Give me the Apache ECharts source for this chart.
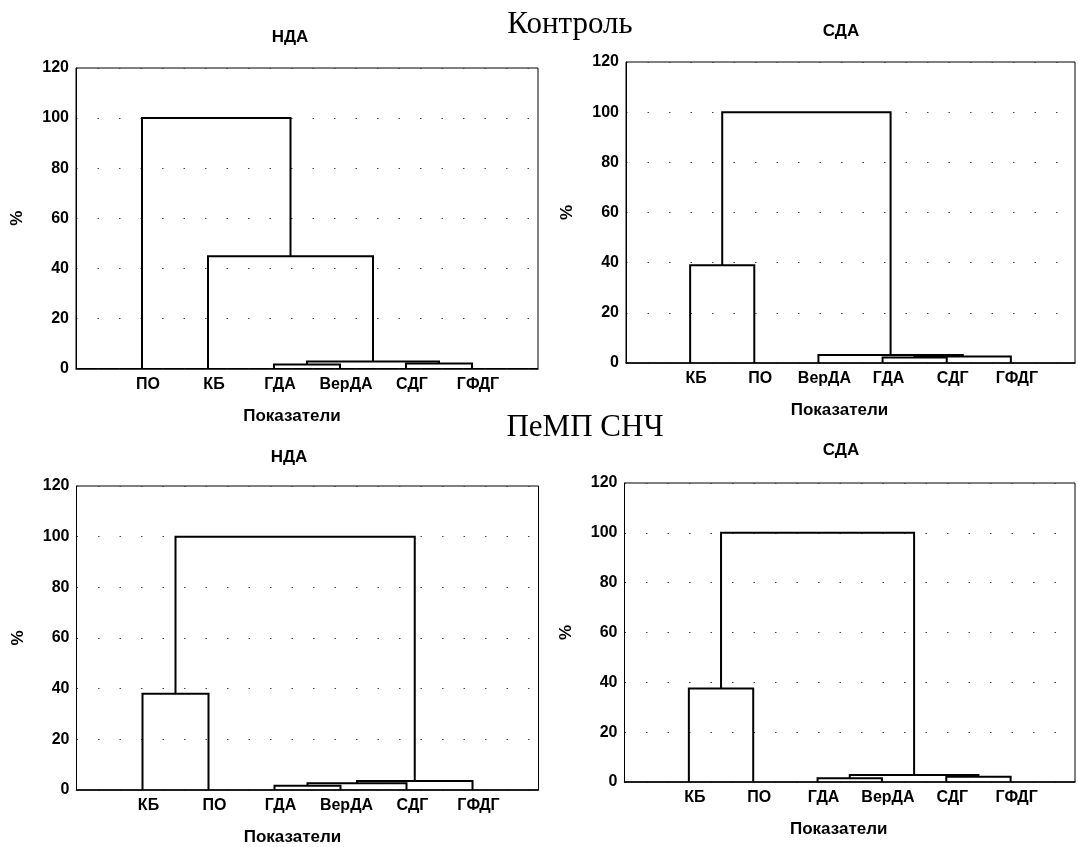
<!DOCTYPE html>
<html>
<head>
<meta charset="utf-8">
<script src="https://cdn.jsdelivr.net/npm/echarts@6/dist/echarts.min.js"></script>
<style>
  html, body { margin: 0; padding: 0; background: #ffffff; }
  #chart { width: 1078px; height: 847px; }
</style>
</head>
<body>
<div id="chart"></div>
<script>
// ---------- data ----------
const groupTitles = ['Контроль', 'ПеМП СНЧ'];
const panelTitles = ['НДА', 'СДА', 'НДА', 'СДА'];
const xAxisName = 'Показатели';
const yAxisName = '%';
const yMin = 0, yMax = 120, yStep = 20;

// leaves (left-to-right order) and merges [childA, childB, height %]
// node indices: 0..5 = leaves, 6.. = merges in order
const leavesCtrlNDA = ['ПО', 'КБ', 'ГДА', 'ВерДА', 'СДГ', 'ГФДГ'];
const mergesCtrlNDA = [[2, 3, 1.6], [4, 5, 2.0], [6, 7, 2.8], [1, 8, 44.8], [0, 9, 100]];

const leavesCtrlSDA = ['КБ', 'ПО', 'ВерДА', 'ГДА', 'СДГ', 'ГФДГ'];
const mergesCtrlSDA = [[0, 1, 39], [3, 4, 2.2], [7, 5, 2.6], [2, 8, 3.2], [6, 9, 100]];

const leavesEmfNDA = ['КБ', 'ПО', 'ГДА', 'ВерДА', 'СДГ', 'ГФДГ'];
const mergesEmfNDA = [[0, 1, 38], [2, 3, 1.7], [7, 4, 2.7], [8, 5, 3.6], [6, 9, 100]];

const leavesEmfSDA = ['КБ', 'ПО', 'ГДА', 'ВерДА', 'СДГ', 'ГФДГ'];
const mergesEmfSDA = [[0, 1, 37.5], [2, 3, 1.5], [4, 5, 2.1], [7, 8, 2.8], [6, 9, 100]];

// ---------- layout ----------
const panels = [
  { leaves: leavesCtrlNDA, merges: mergesCtrlNDA, nameShift: 30, grid: { left: 76, top: 68, width: 462, height: 300.5 } },
  { leaves: leavesCtrlSDA, merges: mergesCtrlSDA, nameShift: 22, grid: { left: 626, top: 62, width: 462, height: 301 } },
  { leaves: leavesEmfNDA,  merges: mergesEmfNDA,  nameShift: 30, grid: { left: 76.5, top: 486, width: 462, height: 305.5 } },
  { leaves: leavesEmfSDA,  merges: mergesEmfSDA,  nameShift: 22, grid: { left: 624.5, top: 483, width: 462, height: 299 } }
];

// build segments for each merge (positions in axis units: leaf i at i+1)
function buildTree(leaves, merges) {
  const pos = leaves.map((_, i) => i + 1);
  const hgt = leaves.map(() => 0);
  const items = [];
  merges.forEach(m => {
    const a = m[0], b = m[1], h = m[2];
    items.push([pos[a], hgt[a], pos[b], hgt[b], h]);
    pos.push((pos[a] + pos[b]) / 2);
    hgt.push(h);
  });
  return items;
}

const FONT = 'Liberation Sans, Arial, sans-serif';
const grids = [], xAxes = [], yAxes = [], series = [], graphics = [];

panels.forEach((p, k) => {
  grids.push(Object.assign({ show: true, borderColor: '#000', borderWidth: 1, backgroundColor: 'transparent' }, p.grid));
  xAxes.push({
    type: 'value', gridIndex: k, min: 0, max: p.leaves.length + 1, interval: 1,
    axisLine: { show: true, onZero: false, lineStyle: { color: '#000', width: 1.5 } },
    axisTick: { show: false },
    splitLine: { show: false },
    axisLabel: {
      color: '#000', fontFamily: FONT, fontWeight: 'bold', fontSize: 16, margin: 8,
      padding: [0, 0, 0, 12],
      formatter: v => (v >= 1 && v <= p.leaves.length) ? p.leaves[v - 1] : ''
    },
    name: xAxisName, nameLocation: 'middle', nameGap: 39,
    nameTextStyle: { color: '#000', fontFamily: FONT, fontWeight: 'bold', fontSize: 17,
      padding: [0, p.nameShift, 0, 0] }
  });
  yAxes.push({
    type: 'value', gridIndex: k, min: yMin, max: yMax, interval: yStep,
    axisLine: { show: true, lineStyle: { color: '#000', width: 1 } },
    axisTick: { show: false },
    splitLine: { show: true, lineStyle: { color: '#444', width: 1, type: [1.5, 20] } },
    axisLabel: { color: '#000', fontFamily: FONT, fontWeight: 'bold', fontSize: 16, margin: 7 },
    name: yAxisName, nameLocation: 'middle', nameGap: 50, nameRotate: 90,
    nameTextStyle: { color: '#000', fontFamily: FONT, fontWeight: 'bold', fontSize: 17 }
  });
  series.push({
    type: 'custom', xAxisIndex: k, yAxisIndex: k, clip: false,
    data: buildTree(p.leaves, p.merges),
    renderItem: function (params, api) {
      const p1 = api.coord([api.value(0), api.value(1)]);
      const p2 = api.coord([api.value(0), api.value(4)]);
      const p3 = api.coord([api.value(2), api.value(4)]);
      const p4 = api.coord([api.value(2), api.value(3)]);
      return {
        type: 'polyline',
        shape: { points: [p1, p2, p3, p4] },
        style: { stroke: '#000', lineWidth: 2, fill: null }
      };
    },
    silent: true, animation: false
  });
});

// panel titles
const subPos = [[290, 37], [841, 31], [289, 457], [841, 450]];
panelTitles.forEach((t, k) => {
  graphics.push({ type: 'text', x: subPos[k][0], y: subPos[k][1],
    style: { text: t, font: 'bold 17px ' + FONT, fill: '#000', textAlign: 'center', textVerticalAlign: 'middle' } });
});
// group titles
const groupPos = [[570, 25], [585, 428]];
groupTitles.forEach((t, k) => {
  graphics.push({ type: 'text', x: groupPos[k][0], y: groupPos[k][1],
    style: { text: t, font: '31px "Liberation Serif", "Times New Roman", serif', fill: '#000', textAlign: 'center', textVerticalAlign: 'middle' } });
});

const chart = echarts.init(document.getElementById('chart'), null, { renderer: 'canvas' });
chart.setOption({
  animation: false,
  backgroundColor: '#ffffff',
  grid: grids, xAxis: xAxes, yAxis: yAxes, series: series,
  graphic: graphics
});
</script>
</body>
</html>
